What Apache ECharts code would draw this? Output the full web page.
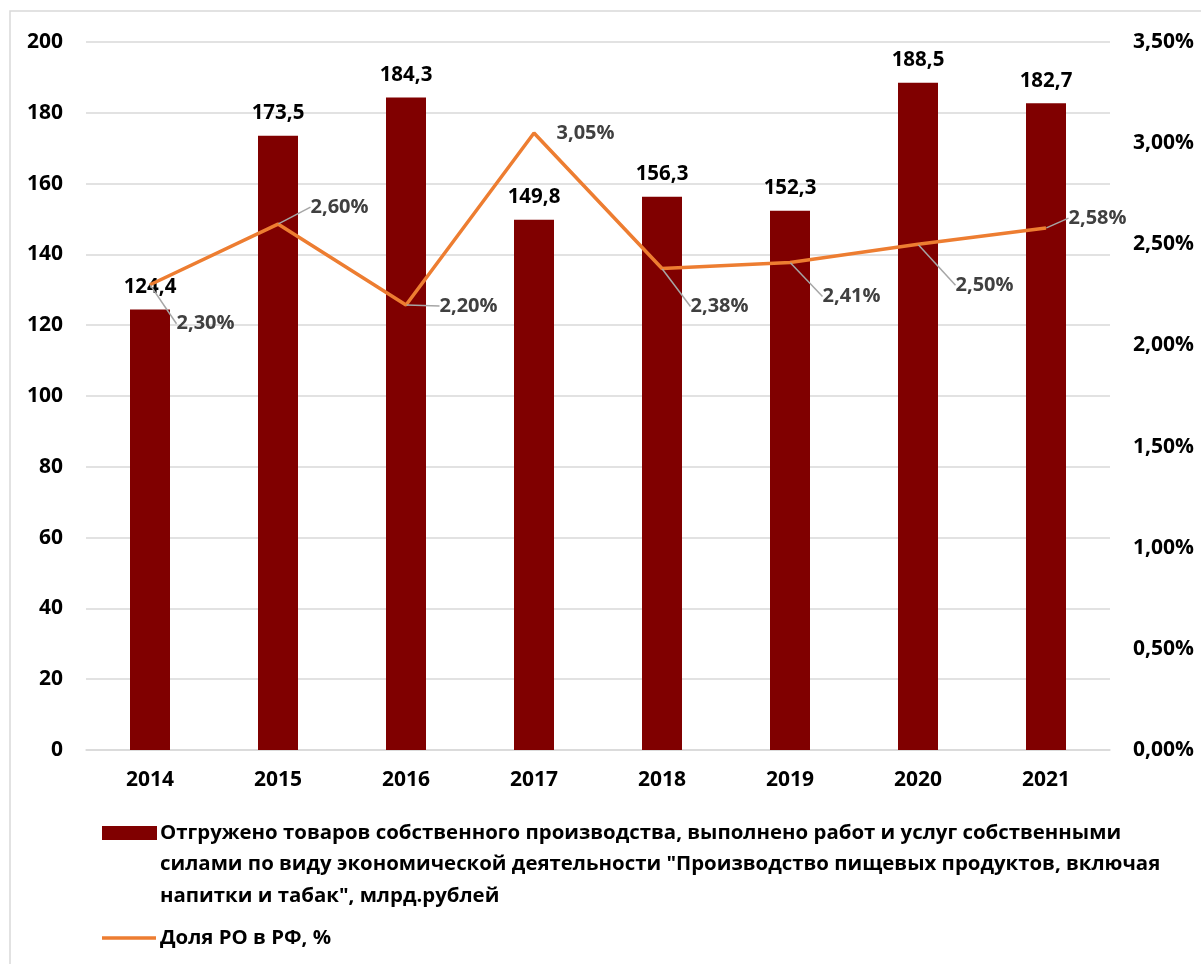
<!DOCTYPE html>
<html>
<head>
<meta charset="utf-8">
<script src="https://cdn.jsdelivr.net/npm/echarts@6/dist/echarts.min.js"></script>
<style>
html,body{margin:0;padding:0;background:#fff;}
#chart{width:1201px;height:964px;}
</style>
</head>
<body>
<div id="chart"></div>
<script>
const categories = ['2014','2015','2016','2017','2018','2019','2020','2021'];
const shippedValues = [124.4, 173.5, 184.3, 149.8, 156.3, 152.3, 188.5, 182.7];
const shareValues = [2.30, 2.60, 2.20, 3.05, 2.38, 2.41, 2.50, 2.58];
const barSeriesName = 'Отгружено товаров собственного производства, выполнено работ и услуг собственными\nсилами по виду экономической деятельности "Производство пищевых продуктов, включая\nнапитки и табак", млрд.рублей';
const lineSeriesName = 'Доля РО в РФ, %';

const FONT = '"Open Sans", "Noto Sans", sans-serif';
const AXIS_FS = 21;
const labelOffsets = [[26,39],[32,-17],[33,1],[22,0],[28,38],[32,34],[37,41],[22,-10]];
const noLeader = [3];

const chart = echarts.init(document.getElementById('chart'), null, {renderer:'canvas'});
const fmtComma = (v, d) => v.toFixed(d).replace('.', ',');

chart.setOption({
  backgroundColor: '#fff',
  animation: false,
  textStyle: { fontFamily: FONT },
  grid: { left: 86, right: 91, top: 42, bottom: 214 },
  xAxis: {
    type: 'category',
    data: categories,
    axisTick: { show: false },
    axisLine: { lineStyle: { color: '#d9d9d9', width: 1.5 } },
    axisLabel: { color: '#000', fontWeight: 'bold', fontSize: AXIS_FS, margin: 20, fontFamily: FONT }
  },
  yAxis: [
    {
      type: 'value', min: 0, max: 200, interval: 20,
      axisLine: { show: false }, axisTick: { show: false },
      splitLine: { lineStyle: { color: '#d9d9d9', width: 1.5 } },
      axisLabel: { color: '#000', fontWeight: 'bold', fontSize: AXIS_FS, margin: 23, fontFamily: FONT }
    },
    {
      type: 'value', min: 0, max: 3.5, interval: 0.5,
      axisLine: { show: false }, axisTick: { show: false },
      splitLine: { show: false },
      axisLabel: { color: '#000', fontWeight: 'bold', fontSize: AXIS_FS, margin: 23, fontFamily: FONT,
        formatter: v => fmtComma(v, 2) + '%' }
    }
  ],
  series: [
    {
      name: barSeriesName,
      type: 'bar',
      data: shippedValues,
      barWidth: 40,
      itemStyle: { color: '#800000' },
      label: {
        show: true, position: 'top', distance: 12,
        color: '#000', fontWeight: 'bold', fontSize: 20.5, fontFamily: FONT,
        formatter: p => fmtComma(p.value, 1)
      },
      z: 2
    },
    {
      name: lineSeriesName,
      type: 'line',
      yAxisIndex: 1,
      data: shareValues.map((v, i) => noLeader.includes(i) ? { value: v, labelLine: { show: false } } : v),
      symbol: 'circle',
      symbolSize: 1,
      showSymbol: true,
      lineStyle: { color: '#ed7d31', width: 3.5 },
      itemStyle: { color: '#ed7d31' },
      label: {
        show: true, position: 'right', distance: 0,
        color: '#404040', fontWeight: 'bold', fontSize: 20, fontFamily: FONT,
        formatter: p => fmtComma(p.value, 2) + '%'
      },
      labelLine: { show: true, lineStyle: { color: '#a6a6a6', width: 1.5 } },
      labelLayout: function (params) {
        const o = labelOffsets[params.dataIndex];
        return { dx: o[0], dy: o[1] };
      },
      z: 3
    }
  ],
  graphic: [
    { type: 'rect', shape: { x: 10, y: 11, width: 1400, height: 1200 }, style: { fill: 'none', stroke: '#d9d9d9', lineWidth: 1.5 }, silent: true, z: -10 },
    { type: 'rect', shape: { x: 102, y: 826, width: 55, height: 14 }, style: { fill: '#800000' } },
    { type: 'text', x: 160, y: 817, style: { text: barSeriesName, fill: '#000', font: 'bold 20.4px ' + FONT, lineHeight: 31.5, verticalAlign: 'top' } },
    { type: 'line', shape: { x1: 102, y1: 938, x2: 156, y2: 938 }, style: { stroke: '#ed7d31', lineWidth: 3.5 } },
    { type: 'text', x: 160, y: 938, style: { text: lineSeriesName, fill: '#000', font: 'bold 20.4px ' + FONT, verticalAlign: 'middle' } }
  ]
});
</script>
</body>
</html>
